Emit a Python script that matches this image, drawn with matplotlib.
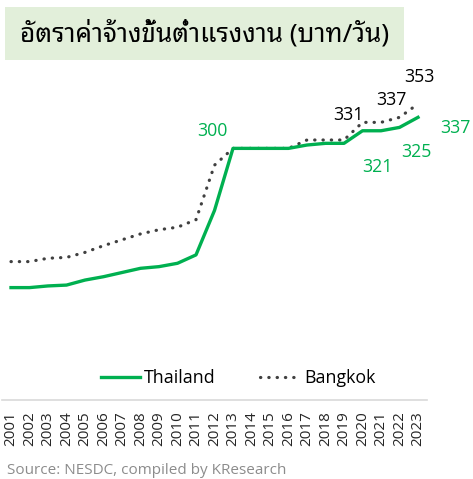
import matplotlib
matplotlib.use("Agg")
import matplotlib.pyplot as plt
from matplotlib.patches import Rectangle

# ข้อมูล (บาท/วัน)
years = list(range(2001, 2024))
thailand = [134, 134, 136, 137, 143, 147, 152, 157, 159, 163, 173, 226,
            300, 300, 300, 300, 304, 306, 306, 321, 321, 325, 337]
bangkok = [165, 165, 169, 170, 176, 184, 191, 198, 203, 206, 215, 280,
           300, 300, 300, 300, 310, 310, 310, 331, 331, 337, 353]

# ป้ายค่าที่แสดงบนกราฟ: (ปี, ค่า, offset x px, offset y px)
thai_labels = [(2013, 300, -21, 17), (2020, 321, 15, -36),
               (2022, 325, 17, -25), (2023, 337, 37, -11)]
bkk_labels = [(2020, 331, -14, 7), (2022, 337, -8, 17), (2023, 353, 1, 27)]

title = "อัตราค่าจ้างขั้นต่ำแรงงาน (บาท/วัน)"
source = "Source: NESDC, compiled by KResearch"

GREEN = "#00B050"
DARK = "#404040"
LATIN = ["Open Sans", "DejaVu Sans"]

W, H = 473, 479
fig = plt.figure(figsize=(W / 100, H / 100), dpi=100)

# กรอบหัวเรื่อง
fig.patches.append(Rectangle((5 / W, 1 - 60 / H), 399 / W, 53 / H,
                             transform=fig.transFigure, facecolor="#E2EFDA",
                             edgecolor="none", zorder=0))
fig.text(20 / W, 1 - 34 / H, title, fontsize=18.8, va="center", ha="left",
         family=["Noto Sans Thai Looped", "DejaVu Sans"], color="black")

ax = fig.add_axes([1.75 / W, 1 - 400 / H, 425.5 / W, 335.5 / H])
ax.plot(years, thailand, color=GREEN, lw=2.4, label="Thailand", zorder=3)
ax.plot(years, bangkok, color=DARK, lw=2.3, linestyle=(0, (0.1, 2.5)),
        dash_capstyle="round", label="Bangkok", zorder=2)

px = 0.72  # pixel -> point
for yr, v, dx, dy in thai_labels:
    ax.annotate(str(v), (yr, v), xytext=(dx * px, dy * px), textcoords="offset points",
                ha="center", va="center", color=GREEN, fontsize=12.8, family=LATIN)
for yr, v, dx, dy in bkk_labels:
    ax.annotate(str(v), (yr, v), xytext=(dx * px, dy * px), textcoords="offset points",
                ha="center", va="center", color="black", fontsize=12.8, family=LATIN)

ax.set_xlim(2000.5, 2023.5)
ax.set_ylim(0, 400)
ax.set_xticks(years)
ax.set_xticklabels([str(y) for y in years], rotation=90, fontsize=11, family=LATIN,
                   color="#262626")
ax.tick_params(axis="x", length=0, pad=8)
ax.set_yticks([])
for s in ["top", "right", "left"]:
    ax.spines[s].set_visible(False)
ax.spines["bottom"].set_color("#D9D9D9")
ax.spines["bottom"].set_linewidth(1.2)
ax.patch.set_alpha(0)

leg = ax.legend(loc="center", bbox_to_anchor=(238 / W, 1 - 378 / H),
                bbox_transform=fig.transFigure, ncol=2, frameon=False,
                prop={"family": LATIN, "size": 12.8}, handlelength=2.2,
                handletextpad=0.25, columnspacing=2.5)

fig.text(7 / W, 1 - 470 / H, source, fontsize=11, color="#8C8C8C",
         va="center", ha="left", family=LATIN)

fig.savefig("out.png", dpi=100)
